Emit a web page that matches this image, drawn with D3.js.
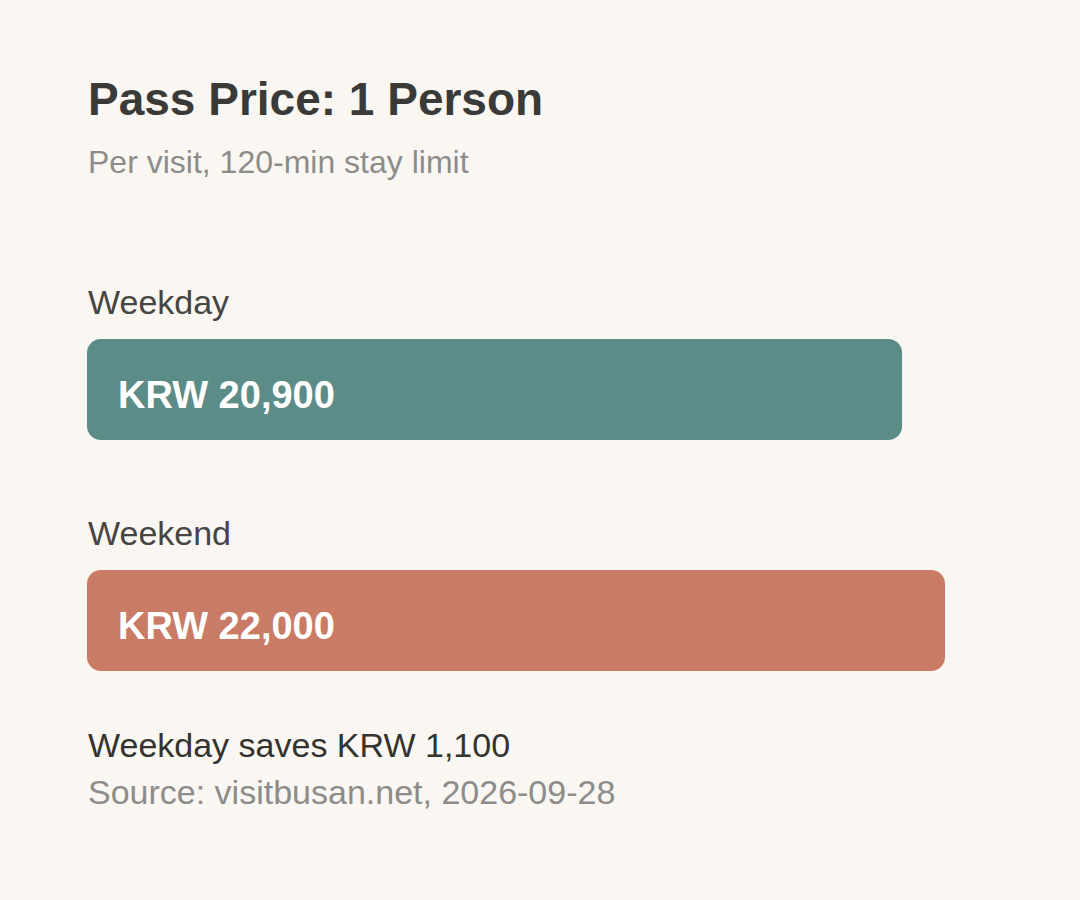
<!DOCTYPE html>
<html>
<head>
<meta charset="utf-8">
<script src="https://cdn.jsdelivr.net/npm/d3@7"></script>
<style>
  body { margin: 0; background: #faf7f2; }
  text { font-family: "Liberation Sans", Arial, sans-serif; }
</style>
</head>
<body>
<script>
let width = 1080;
let height = 900;

let categories = ["Weekday", "Weekend"];
let prices = [20900, 22000];
let priceLabels = ["KRW 20,900", "KRW 22,000"];
let barColors = ["#5c8c87", "#c97b65"];

let svg = d3
  .select("body")
  .append("svg")
  .attr("width", width)
  .attr("height", height);

svg.append("rect").attr("width", width).attr("height", height).attr("fill", "#faf7f2");

let left = 87;
let x = d3.scaleLinear().domain([0, 22000]).range([0, 858]);

svg.append("text")
  .attr("x", 88).attr("y", 115)
  .attr("font-size", 46).attr("font-weight", "bold").attr("fill", "#3a3a38")
  .text("Pass Price: 1 Person");

svg.append("text")
  .attr("x", 88).attr("y", 173)
  .attr("font-size", 32).attr("fill", "#8c8c8a")
  .text("Per visit, 120-min stay limit");

let rowTop = 339;
let rowStep = 231;
let barHeight = 101;

let rows = svg.selectAll(".row")
  .data(categories)
  .enter()
  .append("g")
  .attr("transform", function(d, i) {
    return "translate(" + left + "," + (rowTop + i * rowStep) + ")";
  });

rows.append("text")
  .attr("x", 1).attr("y", -25)
  .attr("font-size", 34).attr("fill", "#454543")
  .text(function(d) { return d; });

rows.append("rect")
  .attr("width", function(d, i) { return x(prices[i]); })
  .attr("height", barHeight)
  .attr("rx", 14)
  .attr("fill", function(d, i) { return barColors[i]; });

rows.append("text")
  .attr("x", 31).attr("y", 69)
  .attr("font-size", 38).attr("font-weight", "bold").attr("fill", "#ffffff")
  .text(function(d, i) { return priceLabels[i]; });

svg.append("text")
  .attr("x", 88).attr("y", 757)
  .attr("font-size", 34).attr("fill", "#333331")
  .text("Weekday saves KRW " + d3.format(",")(prices[1] - prices[0]));

svg.append("text")
  .attr("x", 88).attr("y", 804)
  .attr("font-size", 34).attr("fill", "#8c8c8a")
  .text("Source: visitbusan.net, 2026-09-28");
</script>
</body>
</html>
